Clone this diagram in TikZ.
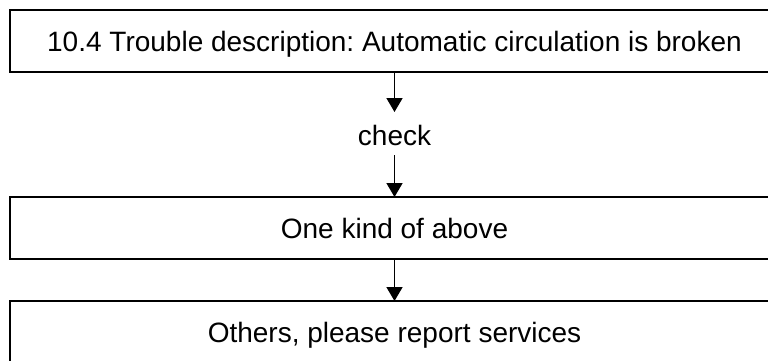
\documentclass[tikz,border=0pt]{standalone}
\usepackage{fontspec}
\setmainfont{Liberation Sans}
\usetikzlibrary{arrows.meta}
\begin{document}
\frenchspacing
\begin{tikzpicture}[x=1pt,y=-1pt,
  box/.style={draw=black,line width=1.7pt,minimum width=769pt,minimum height=62pt,
    inner sep=0pt,outer sep=0pt,text height=21.4pt,text depth=0pt,
    font=\fontsize{28pt}{33pt}\selectfont},
  lbl/.style={inner sep=0pt,outer sep=0pt,minimum height=43pt,text height=23pt,text depth=0pt,
    font=\fontsize{28pt}{33pt}\selectfont},
  arr/.style={-{Triangle[length=14pt,width=16pt]},line width=1.7pt,draw=black}]
\path[use as bounding box] (0,0) rectangle (768,361);
\clip (0,0) rectangle (768,361);
\node[box] (top) at (394.5,41) {10.4 Trouble description: Automatic circulation is broken};
\node[lbl] (chk) at (394.5,133.5) {check};
\node[box] (mid) at (394.5,228) {One kind of above};
\node[box] (bot) at (394.5,332) {Others, please report services};
\draw[arr] (top.south) -- (chk.north);
\draw[arr] (chk.south) -- (mid.north);
\draw[arr] (mid.south) -- (bot.north);
\end{tikzpicture}
\end{document}
